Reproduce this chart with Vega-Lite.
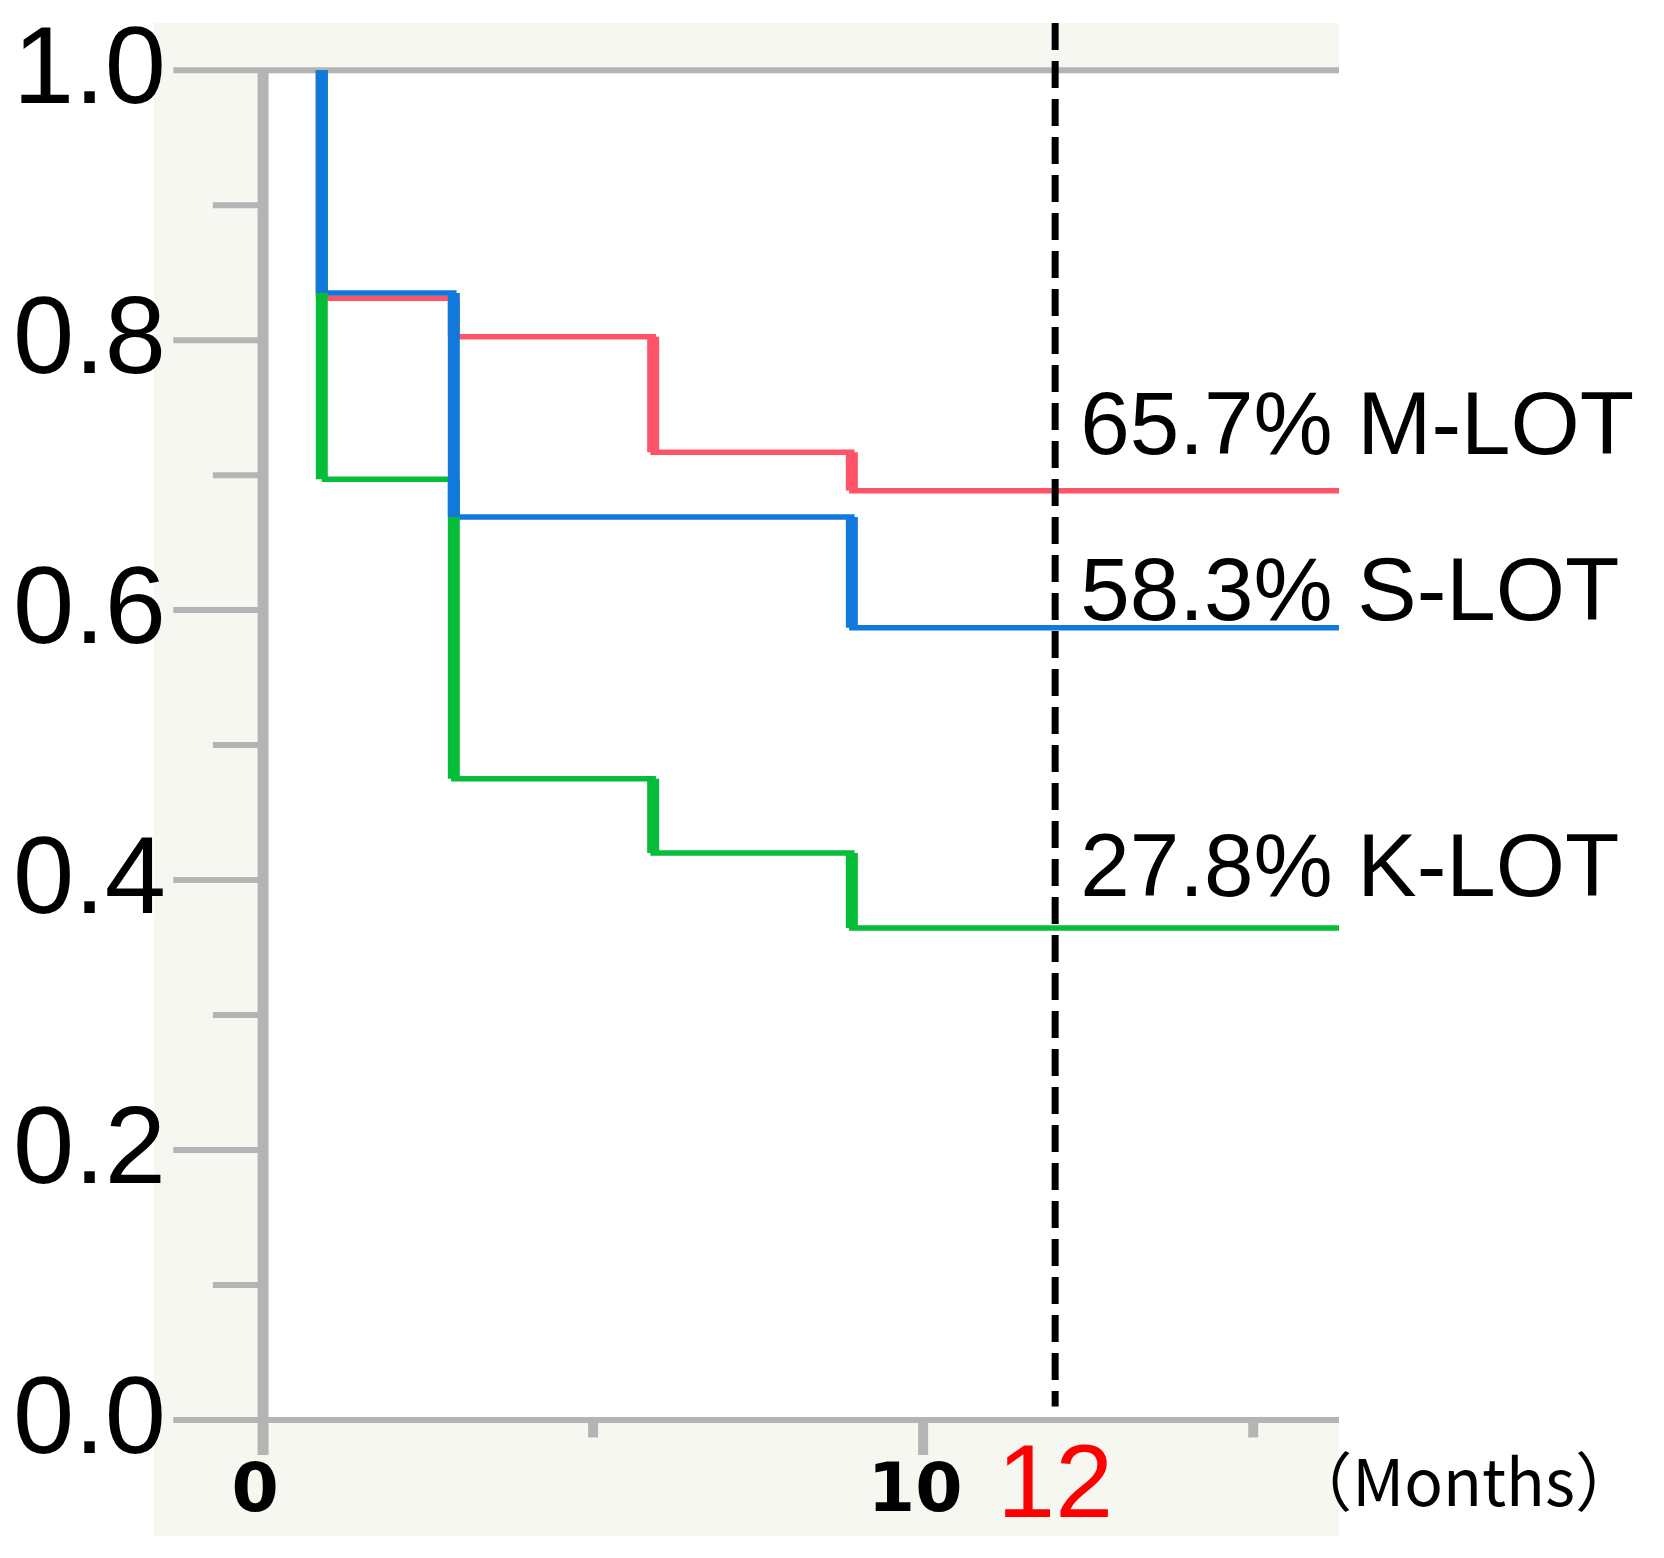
{
  "$schema": "https://vega.github.io/schema/vega-lite/v6.json",
  "width": 1185,
  "height": 1513,
  "autosize": {"type": "none"},
  "padding": {"left": 154, "top": 23, "right": 325, "bottom": 22},
  "background": "white",
  "config": {
    "view": {"fill": "#f7f7f2", "stroke": null},
    "font": "Liberation Sans"
  },
  "datasets": {
    "km": [
      {"group": "M-LOT", "month": 0.89, "prev": 1.0, "surv": 0.831},
      {"group": "M-LOT", "month": 2.89, "prev": 0.831, "surv": 0.8025},
      {"group": "M-LOT", "month": 5.91, "prev": 0.8025, "surv": 0.717},
      {"group": "M-LOT", "month": 8.92, "prev": 0.717, "surv": 0.6885},
      {"group": "M-LOT", "month": 16.3, "prev": 0.6885, "surv": 0.6885},
      {"group": "K-LOT", "month": 0.89, "prev": 1.0, "surv": 0.697},
      {"group": "K-LOT", "month": 2.89, "prev": 0.697, "surv": 0.475},
      {"group": "K-LOT", "month": 5.91, "prev": 0.475, "surv": 0.42},
      {"group": "K-LOT", "month": 8.92, "prev": 0.42, "surv": 0.3645},
      {"group": "K-LOT", "month": 16.3, "prev": 0.3645, "surv": 0.3645},
      {"group": "S-LOT", "month": 0.89, "prev": 1.0, "surv": 0.835},
      {"group": "S-LOT", "month": 2.89, "prev": 0.835, "surv": 0.669},
      {"group": "S-LOT", "month": 8.92, "prev": 0.669, "surv": 0.587},
      {"group": "S-LOT", "month": 16.3, "prev": 0.587, "surv": 0.587}
    ],
    "labels": [
      {"group": "M-LOT", "month": 12.38, "ly": 0.716, "label": "65.7% M-LOT"},
      {"group": "S-LOT", "month": 12.38, "ly": 0.593, "label": "58.3% S-LOT"},
      {"group": "K-LOT", "month": 12.38, "ly": 0.388, "label": "27.8% K-LOT"}
    ]
  },
  "layer": [
    {
      "data": {"values": [{}]},
      "mark": {"type": "rect", "color": "white"},
      "encoding": {
        "x": {"datum": 0, "type": "quantitative", "scale": {"domain": [-1.652, 16.3], "nice": false, "zero": false}, "axis": null},
        "x2": {"datum": 16.3},
        "y": {"datum": 0, "type": "quantitative", "scale": {"domain": [-0.086, 1.035], "nice": false, "zero": false}, "axis": null},
        "y2": {"datum": 1}
      }
    },
    {
      "data": {"values": [{"v": 0}, {"v": 1}]},
      "mark": {"type": "rule", "color": "#b4b4b4", "strokeWidth": 6},
      "encoding": {
        "x": {"datum": -1.36, "type": "quantitative", "axis": null},
        "x2": {"datum": 16.3},
        "y": {"field": "v", "type": "quantitative", "axis": null}
      }
    },
    {
      "data": {"values": [{"v": 0.2}, {"v": 0.4}, {"v": 0.6}, {"v": 0.8}]},
      "mark": {"type": "rule", "color": "#b4b4b4", "strokeWidth": 6},
      "encoding": {
        "x": {"datum": -1.36, "type": "quantitative", "axis": null},
        "x2": {"datum": 0},
        "y": {"field": "v", "type": "quantitative", "axis": null}
      }
    },
    {
      "data": {"values": [{"v": 0.1}, {"v": 0.3}, {"v": 0.5}, {"v": 0.7}, {"v": 0.9}]},
      "mark": {"type": "rule", "color": "#b4b4b4", "strokeWidth": 6},
      "encoding": {
        "x": {"datum": -0.76, "type": "quantitative", "axis": null},
        "x2": {"datum": 0},
        "y": {"field": "v", "type": "quantitative", "axis": null}
      }
    },
    {
      "data": {"values": [{"v": 0}, {"v": 0.2}, {"v": 0.4}, {"v": 0.6}, {"v": 0.8}, {"v": 1}]},
      "mark": {"type": "text", "align": "right", "baseline": "middle", "fontSize": 110, "font": "Liberation Sans Narrow, Liberation Sans", "color": "black"},
      "encoding": {
        "x": {"datum": -1.47, "type": "quantitative", "axis": null},
        "y": {"field": "v", "type": "quantitative", "axis": null},
        "text": {"field": "v", "type": "quantitative", "format": ".1f"}
      }
    },
    {
      "data": {"values": [{}]},
      "mark": {"type": "rule", "color": "#b4b4b4", "strokeWidth": 11},
      "encoding": {
        "x": {"datum": 0, "type": "quantitative", "axis": null},
        "y": {"datum": 1, "type": "quantitative", "axis": null},
        "y2": {"datum": -0.026}
      }
    },
    {
      "data": {"values": [{"m": 5}, {"m": 15}]},
      "mark": {"type": "rule", "color": "#b4b4b4", "strokeWidth": 10},
      "encoding": {
        "x": {"field": "m", "type": "quantitative", "axis": null},
        "y": {"datum": 0, "type": "quantitative", "axis": null},
        "y2": {"datum": -0.013}
      }
    },
    {
      "data": {"values": [{"m": 10}]},
      "mark": {"type": "rule", "color": "#b4b4b4", "strokeWidth": 10},
      "encoding": {
        "x": {"field": "m", "type": "quantitative", "axis": null},
        "y": {"datum": 0, "type": "quantitative", "axis": null},
        "y2": {"datum": -0.026}
      }
    },
    {
      "data": {"name": "km"},
      "mark": {"type": "line", "interpolate": "step-after", "strokeWidth": 5.5},
      "encoding": {
        "x": {"field": "month", "type": "quantitative", "axis": null},
        "y": {"field": "surv", "type": "quantitative", "axis": null},
        "color": {
          "field": "group",
          "type": "nominal",
          "scale": {"domain": ["M-LOT", "K-LOT", "S-LOT"], "range": ["#ff5468", "#06bd3a", "#1279dc"]},
          "legend": null
        }
      }
    },
    {
      "data": {"name": "km"},
      "mark": {"type": "rule", "strokeWidth": 12},
      "encoding": {
        "x": {"field": "month", "type": "quantitative", "axis": null},
        "y": {"field": "prev", "type": "quantitative", "axis": null},
        "y2": {"field": "surv"},
        "color": {"field": "group", "type": "nominal", "legend": null}
      }
    },
    {
      "data": {"values": [{}]},
      "mark": {"type": "rule", "color": "black", "strokeWidth": 7, "strokeDash": [27, 11]},
      "encoding": {
        "x": {"datum": 12, "type": "quantitative", "axis": null},
        "y": {"datum": 1.035, "type": "quantitative", "axis": null},
        "y2": {"datum": 0.01}
      }
    },
    {
      "data": {"name": "labels"},
      "mark": {"type": "text", "align": "left", "baseline": "alphabetic", "fontSize": 89, "font": "Liberation Sans", "color": "black"},
      "encoding": {
        "x": {"field": "month", "type": "quantitative", "axis": null},
        "y": {"field": "ly", "type": "quantitative", "axis": null},
        "text": {"field": "label"}
      }
    },
    {
      "data": {"values": [{"m": 0, "t": "0"}, {"m": 10, "t": "10"}]},
      "mark": {"type": "text", "align": "center", "baseline": "middle", "dx": -8, "fontSize": 68, "fontWeight": "bold", "font": "DejaVu Sans", "color": "black"},
      "encoding": {
        "x": {"field": "m", "type": "quantitative", "axis": null},
        "y": {"datum": -0.053, "type": "quantitative", "axis": null},
        "text": {"field": "t"}
      }
    },
    {
      "data": {"values": [{"m": 12, "t": "12"}]},
      "mark": {"type": "text", "align": "center", "baseline": "middle", "fontSize": 104, "font": "Liberation Sans", "color": "#ff0000"},
      "encoding": {
        "x": {"field": "m", "type": "quantitative", "axis": null},
        "y": {"datum": -0.049, "type": "quantitative", "axis": null},
        "text": {"field": "t"}
      }
    },
    {
      "data": {"values": [{}]},
      "mark": {"type": "text", "text": "（Months）", "align": "left", "baseline": "middle", "fontSize": 64, "font": "Noto Sans CJK JP", "color": "black"},
      "encoding": {
        "x": {"datum": 15.53, "type": "quantitative", "axis": null},
        "y": {"datum": -0.05, "type": "quantitative", "axis": null}
      }
    }
  ]
}
